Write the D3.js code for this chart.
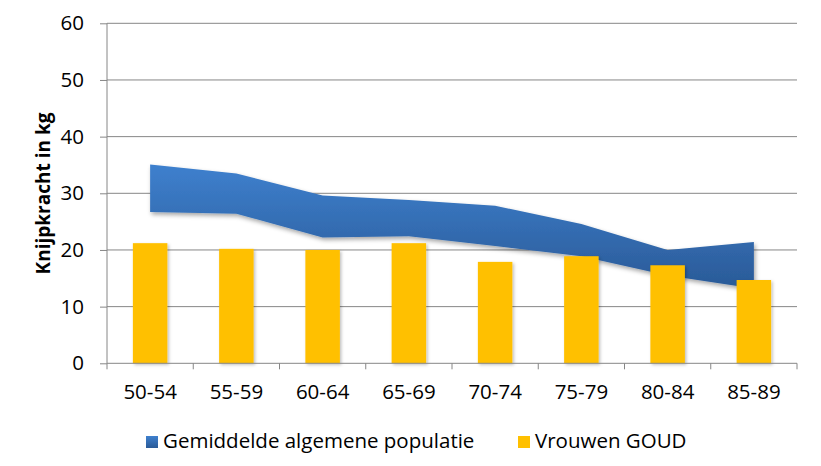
<!DOCTYPE html>
<html><head><meta charset="utf-8">
<script src="https://cdn.jsdelivr.net/npm/d3@7"></script>
<style>body{margin:0;background:#fff}svg{display:block}</style>
</head><body>
<svg id="c" width="821" height="466"></svg>
<script>
const categories = ["50-54","55-59","60-64","65-69","70-74","75-79","80-84","85-89"];
const bandLow  = [26.7, 26.4, 22.2, 22.4, 20.7, 18.9, 15.5, 13.2];
const bandHigh = [35.1, 33.5, 29.6, 28.8, 27.8, 24.6, 20.0, 21.4];
const goud     = [21.2, 20.2, 20.0, 21.2, 17.9, 18.9, 17.3, 14.7];
const yTicks   = [0,10,20,30,40,50,60];
const seriesNames = ["Gemiddelde algemene populatie","Vrouwen GOUD"];

(function(){
const svg = d3.select("#c");
const pL = 107, pR = 797, pT = 23.3, pB = 363.3;
const font = "'Open Sans', sans-serif";
const fs = "20.5px";

const x = d3.scaleBand().domain(categories).range([pL, pR]).paddingInner(0).paddingOuter(0);
const y = d3.scaleLinear().domain([0,60]).range([pB, pT]);

const defs = svg.append("defs");
const grad = defs.append("linearGradient").attr("id","blueGrad").attr("x1",0).attr("y1",0).attr("x2",0).attr("y2",1);
grad.append("stop").attr("offset","0%").attr("stop-color","#3E80CE");
grad.append("stop").attr("offset","100%").attr("stop-color","#2A5A97");
const sh = defs.append("filter").attr("id","shadow").attr("x","-10%").attr("y","-10%").attr("width","130%").attr("height","140%");
sh.append("feDropShadow").attr("dx",1.5).attr("dy",2.5).attr("stdDeviation",2).attr("flood-color","#000").attr("flood-opacity",0.35);
const sh2 = defs.append("filter").attr("id","shadow2").attr("x","-20%").attr("y","-10%").attr("width","150%").attr("height","130%");
sh2.append("feDropShadow").attr("dx",1.5).attr("dy",1.5).attr("stdDeviation",1.5).attr("flood-color","#000").attr("flood-opacity",0.25);

// gridlines
svg.append("g").selectAll("line").data(yTicks.filter(d=>d>0)).join("line")
  .attr("x1", pL).attr("x2", pR).attr("y1", d=>y(d)).attr("y2", d=>y(d))
  .attr("stroke","#868686").attr("stroke-width",1);

// band area
const cx = d => x(d) + x.bandwidth()/2;
const area = d3.area().x((d,i)=>cx(categories[i])).y0((d,i)=>y(bandLow[i])).y1((d,i)=>y(bandHigh[i]));
svg.append("path").datum(categories).attr("d", area)
  .attr("fill","url(#blueGrad)").attr("filter","url(#shadow)");

// bars
const bw = x.bandwidth()*0.4;
svg.append("g").selectAll("rect").data(goud).join("rect")
  .attr("x",(d,i)=>cx(categories[i]) - bw/2).attr("width", bw)
  .attr("y", d=>y(d)).attr("height", d=>y(0)-y(d))
  .attr("fill","#FFC000").attr("filter","url(#shadow2)");

// y axis
const yAxis = d3.axisLeft(y).tickValues(yTicks).tickSize(7).tickPadding(16).tickFormat(d3.format("d"));
const gy = svg.append("g").attr("transform",`translate(${pL},0)`).call(yAxis);
gy.select(".domain").attr("stroke","#868686").attr("d",`M0,${pB}V${pT}`);
gy.selectAll(".tick line").attr("stroke","#868686");
gy.selectAll("text").attr("font-family",font).attr("font-size",fs).attr("fill","#000");

// x axis
const gx = svg.append("g").attr("transform",`translate(0,${pB})`);
gx.append("line").attr("x1",pL).attr("x2",pR).attr("stroke","#868686");
const bounds = categories.map(c=>x(c)).concat([pR]);
gx.selectAll("line.t").data(bounds).join("line").attr("class","t")
  .attr("x1",d=>d).attr("x2",d=>d).attr("y1",0).attr("y2",6).attr("stroke","#868686");
gx.selectAll("text").data(categories).join("text")
  .attr("x", d=>cx(d)).attr("y", 36).attr("text-anchor","middle")
  .attr("font-family",font).attr("font-size",fs).attr("fill","#000").text(d=>d);

// y title
svg.append("text").attr("transform","translate(50,193.5) rotate(-90)")
  .attr("text-anchor","middle").attr("font-family",font).attr("font-weight","bold")
  .attr("font-size","19px").attr("fill","#000").text("Knijpkracht in kg");

// legend
const lg = svg.append("g");
lg.append("rect").attr("x",146).attr("y",436).attr("width",12).attr("height",12).attr("fill","url(#blueGrad)");
lg.append("text").attr("x",163).attr("y",448).attr("font-family",font).attr("font-size",fs).attr("fill","#000").text(seriesNames[0]);
lg.append("rect").attr("x",518).attr("y",436).attr("width",12).attr("height",12).attr("fill","#FFC000");
lg.append("text").attr("x",535).attr("y",448).attr("font-family",font).attr("font-size",fs).attr("fill","#000").text(seriesNames[1]);
})();
</script>
</body></html>
